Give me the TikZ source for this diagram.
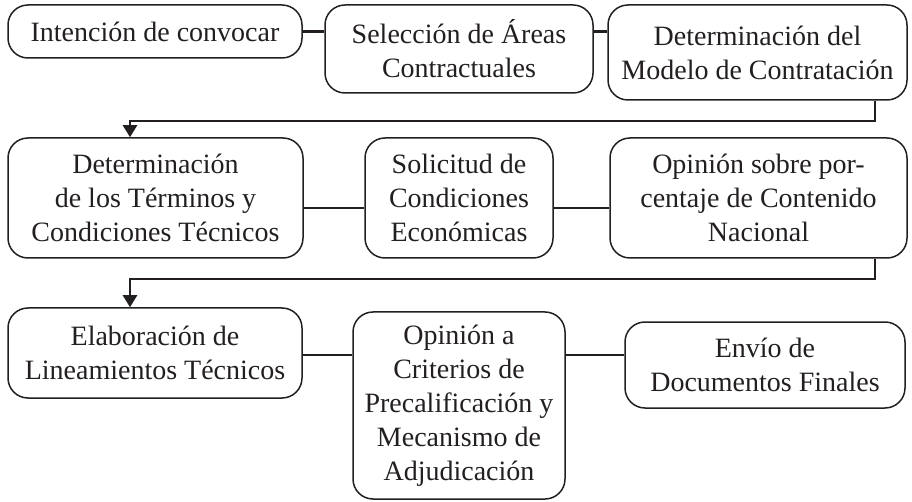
\documentclass[tikz,border=0pt]{standalone}
\usepackage{fontspec}
\setmainfont{Liberation Serif}
\usetikzlibrary{arrows.meta,calc}
\definecolor{ink}{HTML}{231F20}
\tikzset{
  box/.style={draw=ink, line width=1.5pt, rounded corners=20pt, align=center,
    inner sep=0pt, text=ink, font=\fontsize{28}{34}\selectfont},
  link/.style={draw=ink, line width=2.4pt},
  flow/.style={draw=ink, line width=2.4pt, -{Triangle[length=12pt,width=14pt]}}
}
\begin{document}
\begin{tikzpicture}[x=1pt,y=-1pt]
\useasboundingbox (0,0) rectangle (912,502);
% row 1
\node[box, minimum width=294pt, minimum height=53pt] (A) at (155,31.5) {Intención de convocar};
\node[box, minimum width=268pt, minimum height=88pt] (B) at (459,49) {Selección de Áreas\\Contractuales};
\node[box, minimum width=299pt, minimum height=95pt] (C) at (757.5,52.5) {Determinación del\\Modelo de Contratación};
% row 2
\node[box, minimum width=295pt, minimum height=120pt] (D) at (155.5,198) {Determinación\\de los Términos y\\Condiciones Técnicos};
\node[box, minimum width=188pt, minimum height=120pt] (E) at (459,198) {Solicitud de\\Condiciones\\Económicas};
\node[box, minimum width=297pt, minimum height=120pt] (F) at (758.5,198) {Opinión sobre por-\\centaje de Contenido\\Nacional};
% row 3
\node[box, minimum width=294pt, minimum height=90pt] (G) at (155,353) {Elaboración de\\Lineamientos Técnicos};
\node[box, minimum width=212pt, minimum height=187pt] (H) at (459,405.5) {Opinión a\\Criterios de\\Precalificación y\\Mecanismo de\\Adjudicación};
\node[box, minimum width=280pt, minimum height=86pt] (I) at (765,365) {Envío de\\Documentos Finales};
% coordinates for elbow connectors
\coordinate (rx) at (875,0);
\coordinate (lx) at (130,0);
\coordinate (y1) at (0,121);
\coordinate (y2) at (0,279);
% row links
\draw[link] (A.east) -- (A.east -| B.west);
\draw[link] (B.east |- A.east) -- (C.west |- A.east);
\draw[link] ([yshift=-10pt]D.east) -- ([yshift=-10pt]D.east -| E.west);
\draw[link] ([yshift=-10pt]E.east) -- ([yshift=-10pt]E.east -| F.west);
\draw[link] ([yshift=-2pt]G.east) -- ([yshift=-2pt]G.east -| H.west);
\draw[link] ([yshift=-2pt]G.east -| H.east) -- ([yshift=-2pt]G.east -| I.west);
% elbow connectors
\draw[flow] (C.south -| rx) -- (rx |- y1) -- (lx |- y1) -- (D.north -| lx);
\draw[flow] (F.south -| rx) -- (rx |- y2) -- (lx |- y2) -- (G.north -| lx);
\end{tikzpicture}
\end{document}
